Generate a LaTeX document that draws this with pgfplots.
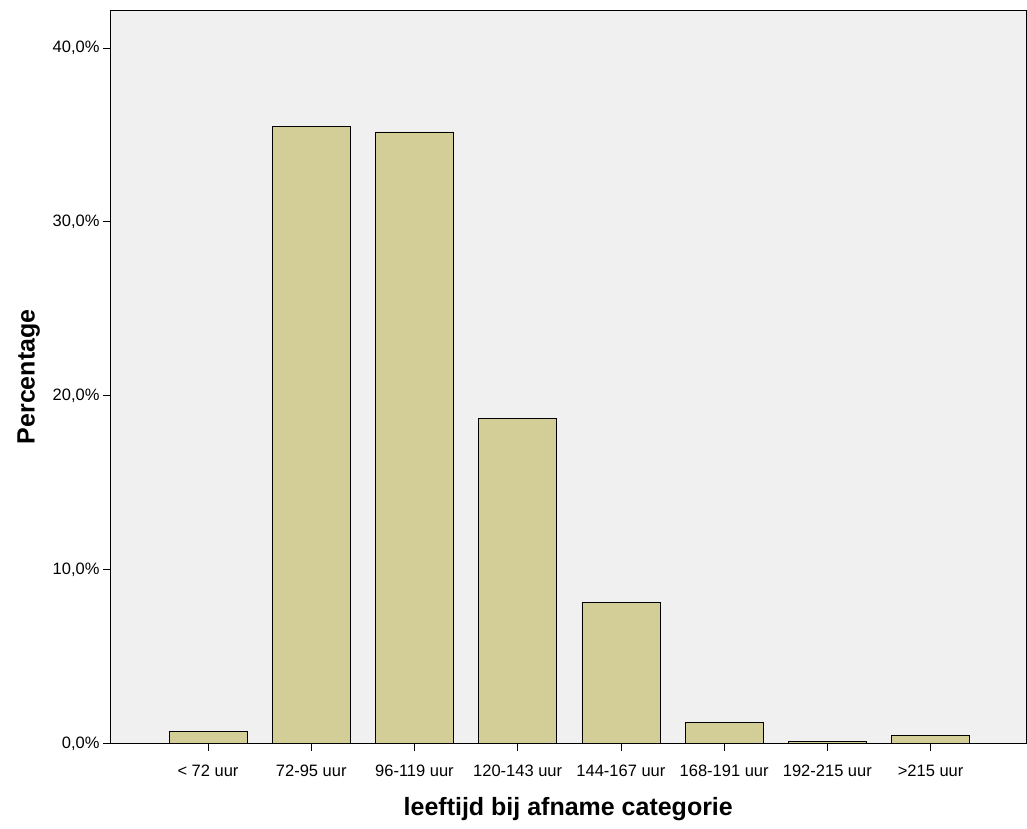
\documentclass[border=0pt]{standalone}
\usepackage{fontspec}
\setmainfont{Liberation Sans}
\usepackage{pgfplots}
\pgfplotsset{compat=1.18}
\definecolor{barf}{HTML}{D3CE97}
\definecolor{bg}{HTML}{F0F0F0}
\begin{document}
\begin{tikzpicture}
\begin{axis}[
  scale only axis, width=917pt, height=734pt,
  xmin=-0.95, xmax=7.93, ymin=0, ymax=42.18,
  axis background/.style={fill=bg},
  axis line style={black, line width=0.8pt},
  xtick=data,
  xticklabels={{< 72 uur},{72-95 uur},{96-119 uur},{120-143 uur},{144-167 uur},{168-191 uur},{192-215 uur},{>215 uur}},
  ytick={0,10,20,30,40},
  yticklabel={\pgfmathprintnumber[fixed,fixed zerofill,precision=1,use comma]{\tick}\%},
  /pgf/number format/assume math mode=true,
  tick align=outside, tick style={black, line width=0.8pt}, major tick length=7pt,
  xtick pos=bottom, ytick pos=left,
  ticklabel style={font=\fontsize{16.5pt}{19pt}\selectfont},
  xticklabel style={yshift=-11pt},
  xlabel={\textbf{leeftijd bij afname categorie}},
  ylabel={\textbf{Percentage}},
  label style={font=\fontsize{25pt}{29pt}\selectfont},
  xlabel style={yshift=-14pt},
  ylabel style={yshift=6pt},
  ybar, bar width=78pt,
]
\addplot[fill=barf, draw=black, line width=0.8pt] coordinates {
(0,0.69) (1,35.46) (2,35.17) (3,18.68) (4,8.10) (5,1.21) (6,0.11) (7,0.46)};
\end{axis}
\useasboundingbox ([shift={(-110pt,-85pt)}]current axis.south west) rectangle ([shift={(0pt,10pt)}]current axis.north east);
\end{tikzpicture}
\end{document}
